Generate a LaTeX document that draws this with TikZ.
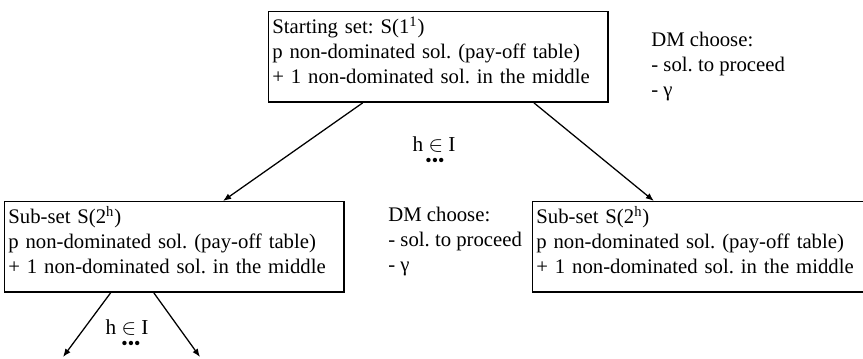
\documentclass[tikz,border=0pt]{standalone}
\usepackage{fontspec}
\setmainfont{Liberation Serif}
\usetikzlibrary{arrows.meta,calc,positioning}
\frenchspacing

\newcommand{\setend}{\rule[-7.6pt]{0pt}{7.6pt}}

\begin{document}
\begin{tikzpicture}[x=0.55pt, y=-0.55pt,
    set/.style={draw, line width=0.8pt, anchor=north west, align=left, text width=182.5pt,
      inner xsep=2pt, inner ysep=2.5pt, font=\fontsize{11.4}{13.75}\selectfont},
    note/.style={anchor=north west, align=left, inner sep=0pt, font=\fontsize{11.4}{13.75}\selectfont},
    idx/.style={inner sep=0pt, font=\fontsize{11.7}{13.75}\selectfont},
    more/.style={inner sep=0pt, font=\fontsize{10}{10}\selectfont},
    arr/.style={-{Latex[length=4.5pt,width=3.5pt]}, line width=0.7pt}]
      \clip (0,0) rectangle (863,358);

      \node[set] (start) at (268,11) {\strut Starting set: S(1\textsuperscript{1})\\p non-dominated sol. (pay-off table)\\+ 1 non-dominated sol. in the middle\setend};
      \node[set] (subl) at (4,201) {\strut Sub-set S(2\textsuperscript{h})\\p non-dominated sol. (pay-off table)\\+ 1 non-dominated sol. in the middle\setend};
      \node[set] (subr) at (532,201) {\strut Sub-set S(2\textsuperscript{h})\\p non-dominated sol. (pay-off table)\\+ 1 non-dominated sol. in the middle\setend};

      \node[note] (dm1) at (651,28.5) {\strut DM choose:\\- sol. to proceed\\- γ};
      \node[note] (dm2) at (388,203.5) {\strut DM choose:\\- sol. to proceed\\- γ};

      \node[idx] (h1) at (434,144.5) {h $\in$ I};
      \node[more] (dots1) at (435,162) {\textbullet\textbullet\textbullet};
      \node[idx] (h2) at (127,328) {h $\in$ I};
      \node[more] (dots2) at (131,345) {\textbullet\textbullet\textbullet};

      % open ends below the left sub-set
      \coordinate (end1) at (63,357);
      \coordinate (end2) at (200,357);

      \draw[arr] ($(start.south west)!0.278!(start.south east)$) -- ($(subl.north west)!0.643!(subl.north east)$);
      \draw[arr] ($(start.south west)!0.781!(start.south east)$) -- ($(subr.north west)!0.358!(subr.north east)$);
      \draw[arr] ($(subl.south west)!0.313!(subl.south east)$) -- (end1);
      \draw[arr] ($(subl.south west)!0.44!(subl.south east)$) -- (end2);
\end{tikzpicture}
\end{document}
